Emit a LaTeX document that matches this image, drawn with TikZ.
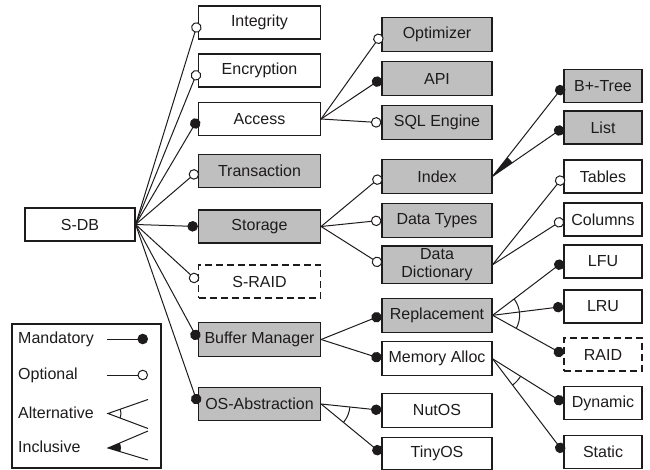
\documentclass[tikz,border=0pt]{standalone}
\usepackage{fontspec}
\setmainfont{Liberation Sans}
\usetikzlibrary{arrows.meta}
\definecolor{ink}{RGB}{30,27,28}
\definecolor{boxgrey}{RGB}{191,191,191}
\tikzstyle{feature} = [
    rectangle, 
    draw=ink, 
    text=ink, 
    line width=1.2pt, 
    font=\fontsize{16}{18}\selectfont, 
    align=center, 
    inner sep=0pt, 
    minimum height=33pt
]
\tikzstyle{white_box} = [feature, fill=white]
\tikzstyle{grey_box} = [feature, fill=boxgrey]
\tikzstyle{dashed_box} = [
    feature, 
    fill=white, 
    dash pattern=on 7pt off 4pt
]
\tikzstyle{col_one} = [minimum width=122pt]
\tikzstyle{col_two} = [minimum width=110pt, minimum height=34pt]
\tikzstyle{col_three} = [minimum width=78pt]
\tikzstyle{legend_text} = [
    text=ink, 
    font=\fontsize{16}{18}\selectfont, 
    inner sep=0pt, 
    anchor=west
]
\tikzstyle{link} = [draw=ink, line width=1pt]
\tikzstyle{mandatory} = [link, -{Circle[length=10.5pt]}]
\tikzstyle{optional} = [link, -{Circle[open, length=10.5pt, fill=white]}]

\begin{document}
\begin{tikzpicture}[x=1pt, y=1pt]
\useasboundingbox (0,0) rectangle (650,-470);

% root and first level
\node [white_box, minimum width=110pt] (sdb) at (80,-224.5) {S-DB};
\node [white_box, col_one] (integrity) at (259.5,-22.5) {Integrity};
\node [white_box, col_one] (encryption) at (259.5,-70.5) {Encryption};
\node [white_box, col_one] (access) at (259.5,-119) {Access};
\node [grey_box, col_one] (transaction) at (259.5,-171) {Transaction};
\node [grey_box, col_one] (storage) at (259.5,-226.5) {Storage};
\node [dashed_box, col_one] (sraid) at (259.5,-281.5) {S-RAID};
\node [grey_box, col_one, minimum height=34pt] (buffer) at (259.5,-339.5) {Buffer Manager};
\node [grey_box, col_one] (osabs) at (259.5,-404) {OS-Abstraction};

% second level
\node [grey_box, col_two] (optimizer) at (437,-34.5) {Optimizer};
\node [grey_box, col_two] (api) at (437,-78.7) {API};
\node [grey_box, col_two] (sqlengine) at (437,-122.7) {SQL Engine};
\node [grey_box, col_two] (index) at (437,-176.3) {Index};
\node [grey_box, col_two] (datatypes) at (437,-220.3) {Data Types};
\node [grey_box, col_two, minimum height=37.5pt] (datadict) at (437,-264.7) {Data\\Dictionary};
\node [grey_box, col_two] (replacement) at (437,-315.3) {Replacement};
\node [white_box, col_two] (memalloc) at (437,-358.8) {Memory Alloc};
\node [white_box, col_two] (nutos) at (437,-410.3) {NutOS};
\node [white_box, col_two, minimum height=32pt] (tinyos) at (437,-453.5) {TinyOS};

% third level
\node [grey_box, col_three] (bplustree) at (603,-86) {B+-Tree};
\node [grey_box, col_three] (list) at (603,-127.5) {List};
\node [white_box, col_three] (tables) at (603,-176.5) {Tables};
\node [white_box, col_three] (columns) at (603,-219.5) {Columns};
\node [white_box, col_three] (lfu) at (603,-261.5) {LFU};
\node [white_box, col_three] (lru) at (603,-306.5) {LRU};
\node [dashed_box, col_three] (raid) at (603,-354.5) {RAID};
\node [white_box, col_three] (dynamic) at (603,-403) {Dynamic};
\node [white_box, col_three] (static) at (603,-452) {Static};

% edges from the root
\draw [optional] (sdb.east) -- (integrity.west);
\draw [optional] (sdb.east) -- (encryption.west);
\draw [mandatory] (sdb.east) -- (access.west);
\draw [optional] (sdb.east) -- (transaction.west);
\draw [mandatory] (sdb.east) -- (storage.west);
\draw [optional] (sdb.east) -- (sraid.west);
\draw [mandatory] (sdb.east) -- (buffer.west);
\draw [mandatory] (sdb.east) -- (osabs.west);

\draw [optional] (access.east) -- (optimizer.west);
\draw [mandatory] (access.east) -- (api.west);
\draw [optional] (access.east) -- (sqlengine.west);
\draw [optional] (storage.east) -- (index.west);
\draw [optional] (storage.east) -- (datatypes.west);
\draw [optional] (storage.east) -- (datadict.west);
\draw [mandatory] (buffer.east) -- (replacement.west);
\draw [mandatory] (buffer.east) -- (memalloc.west);
\draw [mandatory] (osabs.east) -- (nutos.west);
\draw [mandatory] (osabs.east) -- (tinyos.west);
\draw [link] (osabs.east) ++(-39.2:29) arc[start angle=-39.2, end angle=-5.9, radius=29];

\draw [mandatory] (index.east) -- (bplustree.west);
\draw [mandatory] (index.east) -- (list.west);
\fill [ink] (index.east) -- ++(34.1:24) arc[start angle=34.1, end angle=51.4, radius=24] -- cycle;
\draw [optional] (datadict.east) -- (tables.west);
\draw [optional] (datadict.east) -- (columns.west);
\draw [mandatory] (replacement.east) -- (lfu.west);
\draw [mandatory] (replacement.east) -- (lru.west);
\draw [mandatory] (replacement.east) -- (raid.west);
\draw [link] (replacement.east) ++(-28.6:27) arc[start angle=-28.6, end angle=36.8, radius=27];
\draw [mandatory] (memalloc.east) -- (dynamic.west);
\draw [mandatory] (memalloc.east) -- (static.west);
\draw [link] (memalloc.east) ++(-52.3:33) arc[start angle=-52.3, end angle=-31.5, radius=33];

% legend
\node [draw=ink, line width=1.2pt, inner sep=0pt, minimum width=149pt, minimum height=144pt] (legend) at (86.5,-396) {};
\node [legend_text] (lg_mand) at (18,-339) {Mandatory};
\node [legend_text] (lg_opt) at (18,-375) {Optional};
\node [legend_text] (lg_alt) at (18,-413) {Alternative};
\node [legend_text] (lg_incl) at (18,-447) {Inclusive};
\coordinate (mand_a) at (107,-339);
\coordinate (mand_b) at (148,-339);
\coordinate (opt_a) at (107,-375);
\coordinate (opt_b) at (148,-375);
\coordinate (alt_apex) at (108,-413.5);
\coordinate (alt_up) at (148,-399.5);
\coordinate (alt_low) at (148,-428.5);
\coordinate (incl_apex) at (108,-448);
\coordinate (incl_up) at (148,-431);
\coordinate (incl_low) at (148,-460);
\draw [mandatory] (mand_a) -- (mand_b);
\draw [optional] (opt_a) -- (opt_b);
\draw [link] (alt_up) -- (alt_apex) -- (alt_low);
\draw [link] (alt_apex) ++(-20.6:13) arc[start angle=-20.6, end angle=19.3, radius=13];
\draw [link] (incl_up) -- (incl_apex) -- (incl_low);
\fill [ink] (incl_apex) -- ++(-16.7:13) arc[start angle=-16.7, end angle=23, radius=13] -- cycle;
\end{tikzpicture}
\end{document}
